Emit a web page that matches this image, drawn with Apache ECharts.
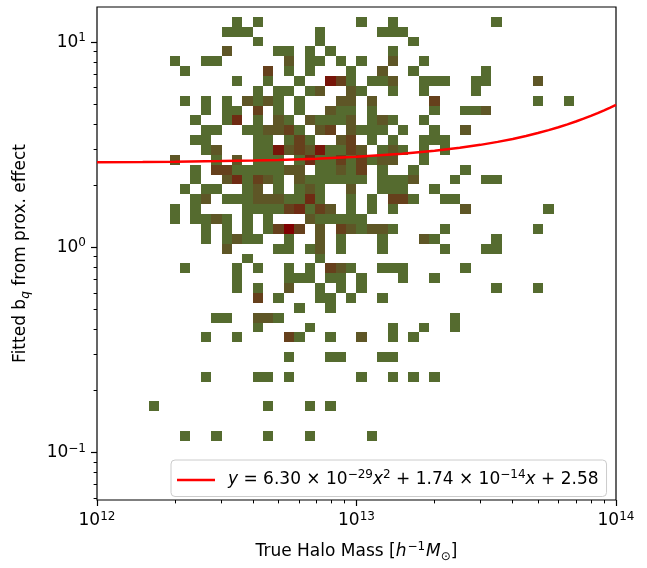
<!DOCTYPE html>
<html><head><meta charset="utf-8">
<script src="https://cdn.jsdelivr.net/npm/echarts@6/dist/echarts.min.js"></script>
<style>html,body{margin:0;padding:0;background:#fff}#chart{width:647px;height:568px}</style>
</head><body><div id="chart"></div>
<script>
// ---- histogram definition (log-spaced bins) ----
const massRange = [1e12, 1e14];
const bqRange = [0.05859, 14.85];
const nMassBins = 50;
const nBqBins = 50;
const maxCount = 6;
// [massBin, bqBin, count]  (bins counted from the low end of each axis)
const histCounts = [
[13,48,1],[15,48,1],[25,48,1],[28,48,1],[38,48,1],
[12,47,1],[13,47,1],[14,47,1],[21,47,1],[27,47,1],[28,47,1],[29,47,1],
[15,46,1],[21,46,1],[30,46,1],
[12,45,2],[17,45,1],[18,45,1],[20,45,1],[22,45,1],[28,45,1],
[7,44,1],[10,44,1],[11,44,1],[18,44,2],[20,44,1],[21,44,1],[23,44,1],[25,44,1],[28,44,2],[31,44,1],
[8,43,1],[16,43,3],[18,43,1],[20,43,1],[24,43,1],[27,43,2],[30,43,1],[37,43,1],
[13,42,1],[16,42,1],[19,42,1],[22,42,5],[23,42,3],[24,42,1],[26,42,1],[27,42,1],[28,42,2],[31,42,1],[32,42,1],[33,42,1],[36,42,1],[37,42,1],[42,42,2],
[15,41,1],[17,41,1],[18,41,1],[20,41,1],[21,41,2],[24,41,2],[25,41,1],[28,41,1],[31,41,1],[36,41,1],
[8,40,1],[10,40,1],[12,40,1],[14,40,2],[15,40,1],[16,40,2],[17,40,1],[19,40,1],[23,40,2],[24,40,2],[26,40,2],[32,40,3],[42,40,1],[45,40,1],
[10,39,1],[12,39,1],[13,39,1],[15,39,3],[17,39,1],[19,39,1],[22,39,2],[23,39,1],[24,39,1],[26,39,1],[32,39,1],[35,39,1],[36,39,1],[37,39,2],
[9,38,1],[12,38,1],[13,38,4],[15,38,1],[17,38,2],[18,38,1],[20,38,2],[21,38,1],[22,38,1],[23,38,1],[24,38,2],[26,38,1],[27,38,2],[28,38,1],[31,38,1],
[10,37,1],[11,37,1],[14,37,1],[15,37,1],[16,37,2],[17,37,2],[18,37,3],[19,37,1],[21,37,2],[22,37,3],[24,37,2],[25,37,1],[26,37,1],[27,37,1],[29,37,1],[32,37,1],[35,37,2],
[9,36,1],[10,36,1],[15,36,1],[16,36,1],[18,36,1],[19,36,3],[20,36,1],[23,36,2],[24,36,3],[26,36,1],[28,36,1],[31,36,1],[32,36,1],[33,36,1],
[10,35,1],[11,35,2],[15,35,1],[16,35,1],[17,35,5],[18,35,2],[19,35,3],[20,35,2],[21,35,5],[22,35,1],[23,35,1],[24,35,3],[25,35,2],[27,35,1],[28,35,2],[29,35,1],[31,35,1],[33,35,1],
[7,34,2],[11,34,1],[13,34,2],[15,34,1],[16,34,1],[17,34,1],[19,34,1],[20,34,4],[21,34,1],[22,34,1],[23,34,3],[24,34,1],[25,34,3],[26,34,1],[27,34,2],[28,34,2],[31,34,1],
[9,33,1],[11,33,3],[12,33,3],[13,33,1],[14,33,1],[15,33,1],[16,33,1],[17,33,1],[18,33,2],[19,33,2],[21,33,1],[22,33,1],[23,33,2],[24,33,1],[25,33,3],[27,33,1],[30,33,1],[35,33,1],
[9,32,1],[12,32,2],[13,32,4],[14,32,1],[15,32,3],[16,32,2],[17,32,1],[19,32,2],[20,32,1],[21,32,1],[22,32,1],[23,32,1],[24,32,1],[25,32,1],[27,32,1],[28,32,1],[29,32,1],[30,32,2],[34,32,1],[37,32,1],[38,32,1],
[8,31,1],[10,31,1],[11,31,1],[14,31,1],[15,31,2],[17,31,1],[19,31,1],[20,31,2],[21,31,1],[24,31,2],[27,31,1],[28,31,1],[29,31,1],[32,31,1],
[9,30,1],[10,30,2],[12,30,1],[13,30,1],[14,30,1],[15,30,2],[16,30,2],[17,30,2],[18,30,1],[19,30,1],[20,30,4],[21,30,1],[24,30,1],[26,30,1],[28,30,3],[29,30,3],[30,30,1],[33,30,1],[34,30,1],
[7,29,1],[9,29,1],[14,29,1],[15,29,1],[16,29,1],[17,29,1],[18,29,3],[19,29,4],[20,29,1],[21,29,3],[22,29,2],[24,29,1],[26,29,1],[28,29,1],[35,29,2],[43,29,1],
[7,28,1],[9,28,1],[10,28,1],[11,28,2],[12,28,1],[14,28,1],[16,28,1],[20,28,2],[21,28,1],[22,28,1],[23,28,1],[24,28,1],[25,28,1],
[10,27,1],[12,27,1],[14,27,1],[16,27,1],[17,27,3],[18,27,6],[19,27,3],[21,27,2],[23,27,3],[24,27,2],[25,27,1],[26,27,2],[27,27,2],[28,27,1],[33,27,1],[42,27,1],
[10,26,1],[12,26,1],[13,26,2],[14,26,1],[15,26,1],[18,26,1],[21,26,2],[23,26,1],[27,26,1],[31,26,2],[32,26,1],[38,26,1],
[12,25,2],[17,25,1],[18,25,1],[20,25,1],[21,25,2],[23,25,1],[27,25,1],[33,25,1],[37,25,1],[38,25,1],
[14,24,1],[21,24,1],
[8,23,1],[13,23,1],[15,23,1],[18,23,1],[20,23,1],[22,23,3],[23,23,2],[24,23,1],[27,23,1],[28,23,1],[29,23,1],[35,23,1],
[13,22,1],[18,22,1],[19,22,1],[20,22,1],[22,22,1],[23,22,1],[25,22,1],[29,22,1],[32,22,1],
[13,21,1],[15,21,1],[18,21,2],[21,21,1],[23,21,1],[25,21,1],[38,21,1],[42,21,1],
[15,20,3],[17,20,1],[21,20,1],[22,20,1],[24,20,1],[27,20,1],
[19,19,1],[22,19,1],
[11,18,1],[12,18,1],[15,18,2],[16,18,2],[17,18,1],[34,18,1],
[15,17,1],[20,17,1],[28,17,1],[31,17,1],[34,17,1],
[10,16,1],[13,16,1],[18,16,3],[19,16,1],[22,16,1],[25,16,2],[28,16,1],[30,16,1],
[18,14,1],[22,14,1],[23,14,1],[27,14,1],[28,14,1],
[10,12,1],[15,12,1],[16,12,1],[18,12,1],[25,12,1],[28,12,1],[30,12,1],[32,12,1],
[5,9,1],[16,9,1],[20,9,1],[22,9,1],
[8,6,1],[11,6,1],[16,6,1],[20,6,1],[26,6,1]
];
// ---- quadratic fit  y = a x^2 + b x + c ----
const fitCoeffs = [6.30e-29, 1.74e-14, 2.58];
const fitMass = [1e12,1.5e12,2e12,3e12,4e12,5e12,7e12,1e13,1.5e13,2e13,2.5e13,3e13,3.5e13,4e13,4.5e13,5e13,5.5e13,6e13,6.5e13,7e13,7.5e13,8e13,8.5e13,9e13,9.5e13,1e14];
const fitBq = [2.5975,2.6062,2.6151,2.6328,2.6506,2.6686,2.7049,2.7603,2.8552,2.9532,3.0544,3.1587,3.2662,3.3768,3.4906,3.6075,3.7276,3.8508,3.9772,4.1067,4.2394,4.3752,4.5142,4.6563,4.8016,4.95];
// ---- tick values ----
const xMajorTicks = [1e12, 1e13, 1e14];
const xMinorTicks = [2e12,3e12,4e12,5e12,6e12,7e12,8e12,9e12,2e13,3e13,4e13,5e13,6e13,7e13,8e13,9e13];
const yMajorTicks = [0.1, 1, 10];
const yMinorTicks = [0.06,0.07,0.08,0.09,0.2,0.3,0.4,0.5,0.6,0.7,0.8,0.9,2,3,4,5,6,7,8,9];

const FONT = 'DejaVu Sans';
const FS = 17;
const SFS = 12;
const lowColor = [85,107,47], highColor = [128,0,0];
function countColor(c) {
  const t = Math.max(0, Math.min(1, (c - 1) / (maxCount - 1)));
  const v = lowColor.map((l, k) => Math.round(l + (highColor[k] - l) * t));
  return 'rgb(' + v.join(',') + ')';
}
function edge(range, n, k) {
  const a = Math.log10(range[0]), b = Math.log10(range[1]);
  return Math.pow(10, a + (b - a) * k / n);
}
const cellData = histCounts.map(([i, b, c]) => [
  edge(massRange, nMassBins, i), edge(massRange, nMassBins, i + 1),
  edge(bqRange, nBqBins, b), edge(bqRange, nBqBins, b + 1), c]);
const fitData = fitMass.map((m, k) => [m, fitBq[k]]);
function fmtCoef(v) {
  const e = Math.floor(Math.log10(Math.abs(v)));
  return { m: (v / Math.pow(10, e)).toFixed(2), e: e };
}
const c2 = fmtCoef(fitCoeffs[0]), c1 = fmtCoef(fitCoeffs[1]);
const legendLabel = '{sp| }{i|y}{n| = ' + c2.m + ' \u00D7 10}{s|\u2212' + (-c2.e) + '}{i|x}{s|2}{n| + ' +
  c1.m + ' \u00D7 10}{s|\u2212' + (-c1.e) + '}{i|x}{n| + ' + fitCoeffs[2].toFixed(2) + '}';
// nudge end ticks just inside the extent so they are never filtered by rounding
function safeTicks(arr, lo, hi) { return arr.map(v => (v <= lo * 1.0000001 ? v * (1 + 1e-9) : (v >= hi * 0.9999999 ? v * (1 - 1e-9) : v))); }
function powLabel(v) {
  const e = Math.round(Math.log10(v));
  return '{b|10}{s|' + (e < 0 ? '\u2212' + (-e) : e) + '}';
}
const labelRich = {
  b: { fontFamily: FONT, fontSize: FS, lineHeight: 20, color: '#000' },
  s: { fontFamily: FONT, fontSize: SFS, lineHeight: 12, verticalAlign: 'top', color: '#000' }
};

const chart = echarts.init(document.getElementById('chart'), null, { renderer: 'canvas' });
chart.setOption({
  animation: false,
  backgroundColor: '#fff',
  textStyle: { fontFamily: FONT },
  grid: { left: 97, top: 7, width: 519, height: 500, show: true, borderColor: '#000', borderWidth: 1.2, backgroundColor: 'transparent' },
  xAxis: [
    { type: 'log', logBase: 10, min: massRange[0], max: massRange[1], position: 'bottom',
      axisLine: { show: false }, splitLine: { show: false }, minorTick: { show: false },
      axisTick: { show: true, customValues: safeTicks(xMajorTicks, massRange[0], massRange[1]), length: 6, lineStyle: { color: '#000', width: 1.2 } },
      axisLabel: { show: true, customValues: safeTicks(xMajorTicks, massRange[0], massRange[1]), margin: 11, formatter: powLabel, rich: labelRich },
      name: '{n|True Halo Mass [}{i|h}{s|\u22121}{i|M}{sub|\u2299}{n|]}', nameLocation: 'middle', nameGap: 41,
      nameTextStyle: { rich: {
        n: { fontFamily: FONT, fontSize: FS, lineHeight: 22, color: '#000' },
        i: { fontFamily: FONT, fontSize: FS, fontStyle: 'italic', lineHeight: 22, color: '#000' },
        s: { fontFamily: FONT, fontSize: SFS, lineHeight: 14, verticalAlign: 'top', color: '#000', padding: [0, 1, 0, 1] },
        sub: { fontFamily: FONT, fontSize: SFS, lineHeight: 14, verticalAlign: 'bottom', color: '#000' } } } },
    { type: 'log', logBase: 10, min: massRange[0], max: massRange[1], position: 'bottom', gridIndex: 0,
      axisLine: { show: false }, splitLine: { show: false },
      axisTick: { show: true, customValues: xMinorTicks, length: 3.4, lineStyle: { color: '#000', width: 1 } },
      axisLabel: { show: false } }
  ],
  yAxis: [
    { type: 'log', logBase: 10, min: bqRange[0], max: bqRange[1], position: 'left',
      axisLine: { show: false }, splitLine: { show: false }, minorTick: { show: false },
      axisTick: { show: true, customValues: yMajorTicks, length: 6, lineStyle: { color: '#000', width: 1.2 } },
      axisLabel: { show: true, customValues: yMajorTicks, margin: 11, formatter: powLabel, rich: labelRich },
      name: '{n|Fitted b}{sub|q}{n| from prox. effect}', nameLocation: 'middle', nameGap: 65,
      nameTextStyle: { rich: {
        n: { fontFamily: FONT, fontSize: FS, lineHeight: 22, color: '#000' },
        sub: { fontFamily: FONT, fontSize: SFS, fontStyle: 'italic', lineHeight: 14, verticalAlign: 'bottom', color: '#000' } } } },
    { type: 'log', logBase: 10, min: bqRange[0], max: bqRange[1], position: 'left', gridIndex: 0,
      axisLine: { show: false }, splitLine: { show: false },
      axisTick: { show: true, customValues: yMinorTicks, length: 3.4, lineStyle: { color: '#000', width: 1 } },
      axisLabel: { show: false } }
  ],
  legend: {
    show: true, left: 171, top: 460, orient: 'horizontal',
    padding: [9, 8, 8, 6], itemWidth: 38, itemHeight: 2.6,
    backgroundColor: 'rgba(255,255,255,0.8)', borderColor: '#cccccc', borderWidth: 1, borderRadius: 4,
    data: [{ name: 'fit', icon: 'rect', itemStyle: { color: '#ff0000' } }],
    formatter: () => legendLabel,
    textStyle: { rich: {
      sp: { width: 8, fontSize: FS },
      n: { fontFamily: FONT, fontSize: FS, lineHeight: 22, color: '#000' },
      i: { fontFamily: FONT, fontSize: FS, fontStyle: 'italic', lineHeight: 22, color: '#000' },
      s: { fontFamily: FONT, fontSize: SFS, lineHeight: 12, verticalAlign: 'top', color: '#000' } } }
  },
  series: [
    { type: 'custom', name: 'hist2d', xAxisIndex: 0, yAxisIndex: 0, data: cellData,
      encode: { x: [0, 1], y: [2, 3] }, z: 2, silent: true,
      renderItem: function (params, api) {
        const p0 = api.coord([api.value(0), api.value(3)]);
        const p1 = api.coord([api.value(1), api.value(2)]);
        const x = Math.round(p0[0]), y = Math.round(p0[1]);
        return { type: 'rect', shape: { x: x, y: y, width: Math.round(p1[0]) - x, height: Math.round(p1[1]) - y },
                 style: { fill: countColor(api.value(4)) } };
      } },
    { type: 'line', name: 'fit', xAxisIndex: 0, yAxisIndex: 0, data: fitData, symbol: 'none', z: 3,
      lineStyle: { color: '#ff0000', width: 2.5 }, itemStyle: { color: '#ff0000' }, clip: true }
  ]
});
</script></body></html>
